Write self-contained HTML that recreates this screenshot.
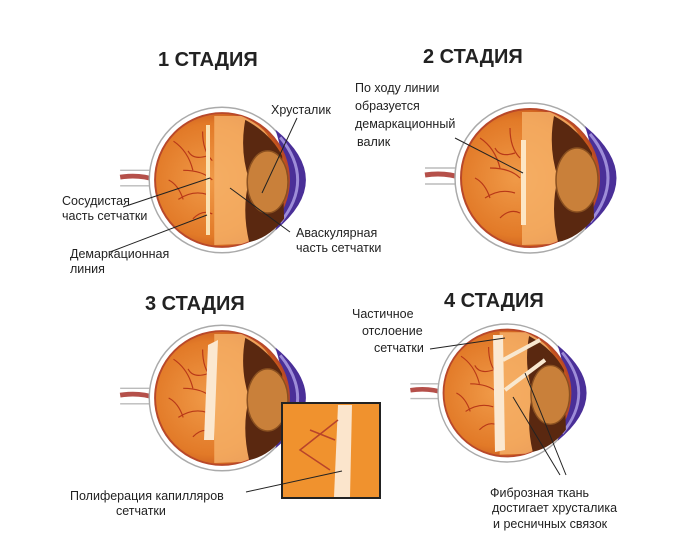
<!DOCTYPE html>
<html><head><meta charset="utf-8"><style>
body{margin:0;background:#fff;width:700px;height:535px;overflow:hidden}
svg text{font-family:"Liberation Sans",sans-serif;fill:#222}
.t{font-size:20px;font-weight:bold}
.l{font-size:12.5px}
</style></head><body>
<svg width="700" height="535" viewBox="0 0 700 535">
<defs>
<radialGradient id="g" cx="0.4" cy="0.5" r="0.6"><stop offset="0" stop-color="#f09a48"/><stop offset="0.7" stop-color="#e27a28"/><stop offset="1" stop-color="#c04e1a"/></radialGradient>
<g id="eye">
 <path d="M-105,-10 L-70,-10 M-105,6 L-70,6" stroke="#bbb" stroke-width="1.5" fill="none"/>
 <path d="M-105,-3 Q-85,-6 -68,0" stroke="#b5504a" stroke-width="5" fill="none"/>
 <circle r="75" fill="#fff" stroke="#aaa" stroke-width="1.5"/>
 <path d="M55,-52 Q118,0 55,52 Q72,0 55,-52Z" fill="#4a2f98"/>
 <path d="M60,-44 Q96,0 60,44" stroke="#9d8cd8" stroke-width="3" fill="none"/>
 <circle r="69" fill="url(#g)" stroke="#b8482a" stroke-width="2"/>
 <path d="M-8,-66 L20,-66 Q45,-55 50,-40 L50,45 Q40,60 20,66 L-8,67 Z" fill="#f6b36a" opacity="0.8"/>
 <path d="M24,-62 Q50,-48 62,-25 L64,40 Q48,60 28,64 Q20,30 28,0 Q18,-30 24,-62Z" fill="#5a2810"/>
 <ellipse cx="47" cy="2" rx="21" ry="32" fill="#c9803a" stroke="#8a5020" stroke-width="1.5"/>
 <path d="M-50,-40 q15,10 20,30 M-45,20 q15,-10 30,-5 M-40,-10 q20,0 30,10 M-30,40 q10,-10 20,-5 M-20,-50 q0,20 10,30 M-55,0 q10,5 15,20 M-35,-30 q5,10 20,5" stroke="#b83818" stroke-width="1.2" fill="none"/>
</g>
</defs>
<text class="t" x="158" y="66">1  СТАДИЯ</text>
<text class="t" x="423" y="63">2  СТАДИЯ</text>
<text class="t" x="145" y="310">3  СТАДИЯ</text>
<text class="t" x="444" y="307">4  СТАДИЯ</text>

<use href="#eye" transform="translate(222,180) scale(0.97)"/>
<rect x="206" y="125" width="4" height="110" fill="#fbe0b0"/>
<use href="#eye" transform="translate(530,178)"/>
<rect x="521" y="140" width="5" height="85" fill="#fde6c4"/>
<use href="#eye" transform="translate(222,398) scale(0.97)"/>
<path d="M208,345 L218,340 L214,440 L204,440Z" fill="#fbe8d0"/>
<use href="#eye" transform="translate(507,393) scale(0.92)"/>
<path d="M493,335 L503,335 L505,450 L495,452Z" fill="#fbe8d0"/>
<path d="M503,360 L540,340 M505,390 L545,360" stroke="#f8e8d0" stroke-width="4"/>

<rect x="282" y="403" width="98" height="95" fill="#f0922e" stroke="#222" stroke-width="2"/>
<path d="M338,405 L352,405 L350,497 L334,497Z" fill="#fbe5cc"/>
<path d="M338,420 L300,450 L330,470 M335,440 L310,430" stroke="#b8432a" stroke-width="1.5" fill="none"/>

<g stroke="#222" stroke-width="1" fill="none">
<line x1="297" y1="118" x2="262" y2="193"/>
<line x1="123" y1="207" x2="210" y2="178"/>
<line x1="110" y1="252" x2="207" y2="215"/>
<line x1="230" y1="188" x2="290" y2="232"/>
<line x1="455" y1="138" x2="523" y2="173"/>
<line x1="246" y1="492" x2="342" y2="471"/>
<line x1="430" y1="349" x2="505" y2="338"/>
<line x1="525" y1="373" x2="566" y2="475"/>
<line x1="513" y1="397" x2="560" y2="475"/>
</g>
<text class="l" x="271" y="114">Хрусталик</text>
<text class="l" x="62" y="205">Сосудистая</text>
<text class="l" x="62" y="220">часть сетчатки</text>
<text class="l" x="70" y="258">Демаркационная</text>
<text class="l" x="70" y="273">линия</text>
<text class="l" x="296" y="237">Аваскулярная</text>
<text class="l" x="296" y="252">часть сетчатки</text>
<text class="l" x="355" y="92">По ходу линии</text>
<text class="l" x="355" y="110">образуется</text>
<text class="l" x="355" y="128">демаркационный</text>
<text class="l" x="357" y="146">валик</text>
<text class="l" x="70" y="500">Полиферация капилляров</text>
<text class="l" x="116" y="515">сетчатки</text>
<text class="l" x="352" y="318">Частичное</text>
<text class="l" x="362" y="335">отслоение</text>
<text class="l" x="374" y="352">сетчатки</text>
<text class="l" x="490" y="497">Фиброзная ткань</text>
<text class="l" x="492" y="512">достигает хрусталика</text>
<text class="l" x="493" y="528">и ресничных связок</text>
</svg>
</body></html>
